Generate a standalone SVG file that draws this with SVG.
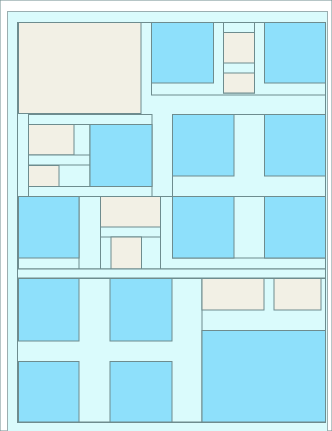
<svg xmlns="http://www.w3.org/2000/svg" width="332" height="431" viewBox="0 0 332 431">
<style>
rect{stroke:#6e8c8e;stroke-width:1}
.c{fill:#dafbfc}
.b{fill:#8ee0fb}
.e{fill:#f2f0e5}
.r{stroke:#9aaeb0}
</style>
<rect x="0" y="0" width="332" height="431" fill="#ffffff" stroke="none"/>
<g id="root">
<rect class="c r" x="7.5" y="11.5" width="320" height="430"/>
<rect class="c" x="17.5" y="22.5" width="308" height="400"/>
</g>
<g id="band-top">
<rect class="e" x="18.5" y="22.5" width="122.5" height="91"/>
<rect class="c" x="151.5" y="22.5" width="174" height="72.5"/>
<rect class="b" x="151.5" y="22.5" width="62" height="60.5"/>
<rect class="c" x="223.5" y="22.5" width="31" height="70.5"/>
<rect class="e" x="223.5" y="32.5" width="31" height="30.5"/>
<rect class="e" x="223.5" y="73" width="31" height="20"/>
<rect class="b" x="264.5" y="22.5" width="61" height="60.5"/>
</g>
<g id="band-mid-left">
<rect class="c" x="28.5" y="114.5" width="123.5" height="82"/>
<rect class="c" x="28.5" y="124.5" width="61.5" height="62"/>
<rect class="e" x="28.5" y="124.5" width="45.5" height="30.5"/>
<rect class="c" x="28.5" y="155" width="61.5" height="10"/>
<rect class="e" x="28.5" y="165.5" width="30.5" height="21"/>
<rect class="b" x="90" y="124.5" width="62" height="62"/>
</g>
<g id="band-mid-right">
<rect class="c" x="172.5" y="114.5" width="153" height="82"/>
<rect class="b" x="172.5" y="114.5" width="61.5" height="61.5"/>
<rect class="b" x="264.5" y="114.5" width="61" height="61.5"/>
</g>
<g id="band-c">
<rect class="c" x="17.5" y="196.5" width="308" height="72.5"/>
<rect class="c" x="18.5" y="196.5" width="60.5" height="72.5"/>
<rect class="b" x="18.5" y="196.5" width="60.5" height="61.5"/>
<rect class="c" x="100.5" y="196.5" width="60" height="72.5"/>
<rect class="e" x="100.5" y="196.5" width="60" height="30.5"/>
<rect class="c" x="100.5" y="237" width="60" height="32"/>
<rect class="e" x="111" y="237" width="30.5" height="32"/>
<rect class="c" x="172.5" y="196.5" width="153" height="61.5"/>
<rect class="b" x="172.5" y="196.5" width="61.5" height="61.5"/>
<rect class="b" x="264.5" y="196.5" width="61" height="61.5"/>
</g>
<g id="band-d">
<rect class="c" x="17.5" y="269" width="308" height="9"/>
<rect class="c" x="17.5" y="278.5" width="308" height="143.5"/>
<rect class="b" x="18.5" y="278.5" width="60.5" height="62.5"/>
<rect class="b" x="110" y="278.5" width="62" height="62.5"/>
<rect class="b" x="18.5" y="361.5" width="60.5" height="60.5"/>
<rect class="b" x="110" y="361.5" width="62" height="60.5"/>
<rect class="c" x="202" y="278.5" width="123.5" height="143.5"/>
<rect class="e" x="202" y="278.5" width="62" height="31.5"/>
<rect class="e" x="274" y="278.5" width="47" height="31.5"/>
<rect class="b" x="202" y="330.5" width="123.5" height="91.5"/>
</g>
</svg>
